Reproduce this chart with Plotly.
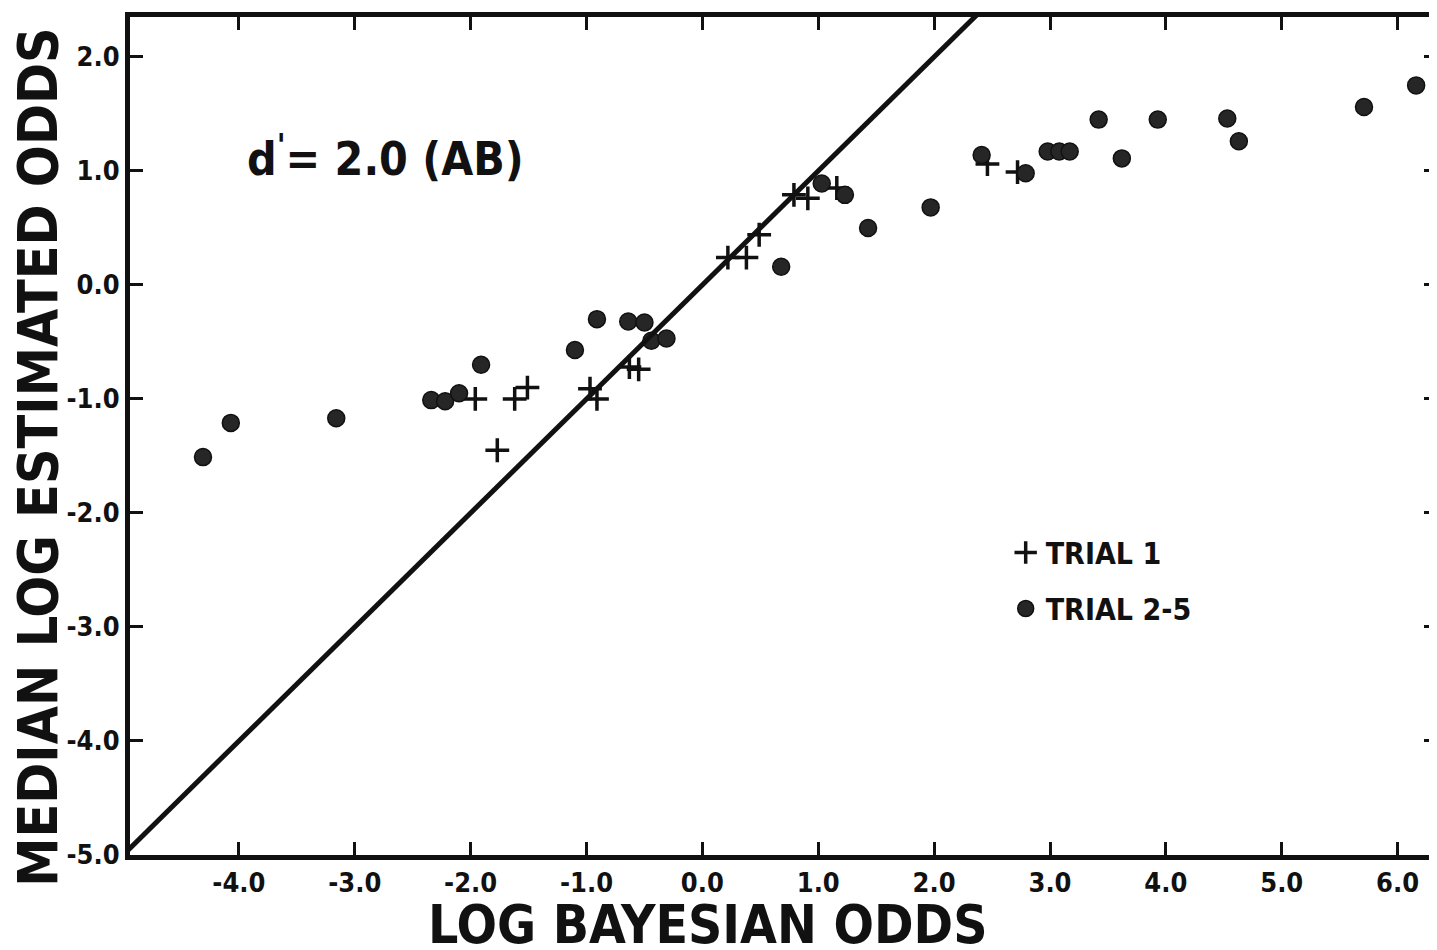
import plotly.graph_objects as go

# Trial 2-5 (filled circles): log Bayesian odds, median log estimated odds
trial25_x = [-4.31, -4.07, -3.16, -2.34, -2.22, -2.10, -1.91, -1.10, -0.91, -0.64,
             -0.50, -0.44, -0.31, 0.68, 1.03, 1.23, 1.43, 1.97, 2.41, 2.79,
             2.98, 3.08, 3.17, 3.42, 3.62, 3.93, 4.53, 4.63, 5.71, 6.16]
trial25_y = [-1.51, -1.21, -1.17, -1.01, -1.02, -0.95, -0.70, -0.57, -0.30, -0.32,
             -0.33, -0.49, -0.47, 0.16, 0.89, 0.79, 0.50, 0.68, 1.14, 0.98,
             1.17, 1.17, 1.17, 1.45, 1.11, 1.45, 1.46, 1.26, 1.56, 1.75]

# Trial 1 (plus signs)
trial1_x = [-1.96, -1.62, -1.51, -1.77, -0.97, -0.91, -0.63, -0.55, 0.22, 0.38,
            0.49, 0.79, 0.91, 1.16, 2.46, 2.72]
trial1_y = [-1.00, -1.00, -0.90, -1.45, -0.91, -1.00, -0.72, -0.74, 0.24, 0.24,
            0.44, 0.79, 0.76, 0.85, 1.06, 0.99]

# identity line (log estimated odds = log Bayesian odds)
identity = [-5.0, 3.0]

tick_vals = [-5.0, -4.0, -3.0, -2.0, -1.0, 0.0, 1.0, 2.0, 3.0, 4.0, 5.0, 6.0]
tick_text = ["-5.0", "-4.0", "-3.0", "-2.0", "-1.0", "0.0", "1.0", "2.0", "3.0", "4.0", "5.0", "6.0"]

x_range = [-4.94, 6.34]
y_range = [-5.0, 2.35]

FONT = "DejaVu Sans Condensed, DejaVu Sans, sans-serif"
INK = "#111111"

fig = go.Figure()
# identity line lives on the overlaying right axis (same range) so that axis is drawn
fig.add_trace(go.Scatter(x=identity, y=identity, mode="lines", yaxis="y2",
                         line=dict(color=INK, width=5), showlegend=False,
                         hoverinfo="skip"))
fig.add_trace(go.Scatter(x=trial1_x, y=trial1_y, mode="markers", name="TRIAL 1",
                         legendgroup="t1",
                         marker=dict(symbol="cross-thin", size=17,
                                     line=dict(color=INK, width=3.5), color=INK)))
fig.add_trace(go.Scatter(x=trial25_x, y=trial25_y, mode="markers", name="TRIAL 2-5",
                         legendgroup="t25",
                         marker=dict(symbol="circle", size=17, color="#262626",
                                     line=dict(color=INK, width=1.5))))

tick_style = dict(
    showgrid=False, zeroline=False, ticks="inside", ticklen=13, tickwidth=2.5,
    tickcolor=INK, tickmode="array", tickvals=tick_vals, ticktext=tick_text,
    tickfont=dict(family=FONT, size=27, color=INK, weight="bold"),
    automargin=False,
)

fig.update_layout(
    xaxis=dict(range=x_range, showline=True, linecolor=INK, linewidth=5,
               mirror="ticks", **tick_style),
    yaxis=dict(range=y_range, showline=True, linecolor=INK, linewidth=5,
               mirror=False, **tick_style),
    # right-hand tick marks (the right border itself lies beyond the picture)
    yaxis2=dict(range=y_range, overlaying="y", side="right", showline=False,
                showticklabels=False, **tick_style),
)

# axis titles (placed where the reference lettering sits)
fig.add_annotation(x=0.4423, y=-0.083, xref="paper", yref="paper",
                   text="LOG BAYESIAN ODDS", showarrow=False,
                   xanchor="center", yanchor="middle",
                   font=dict(family=FONT, size=53, color=INK, weight="bold"))
fig.add_annotation(x=-0.0705, y=0.475, xref="paper", yref="paper",
                   text="MEDIAN LOG ESTIMATED ODDS", showarrow=False, textangle=-90,
                   xanchor="center", yanchor="middle",
                   font=dict(family=FONT, size=55, color=INK, weight="bold"))

fig.add_annotation(x=0.088, y=0.834, xref="paper", yref="paper",
                   text="d<sup>'</sup>= 2.0 (AB)", showarrow=False,
                   xanchor="left", yanchor="middle",
                   font=dict(family=FONT, size=46, color=INK, weight="bold"))

fig.update_layout(
    width=1429, height=942,
    margin=dict(l=122, r=0, t=9, b=95),
    plot_bgcolor="white", paper_bgcolor="white",
    legend=dict(x=0.670, y=0.392, xanchor="left", yanchor="top",
                font=dict(family=FONT, size=30, color=INK, weight="bold"),
                bgcolor="rgba(0,0,0,0)", itemwidth=30, tracegroupgap=14),
)

fig.write_html("out.html")
